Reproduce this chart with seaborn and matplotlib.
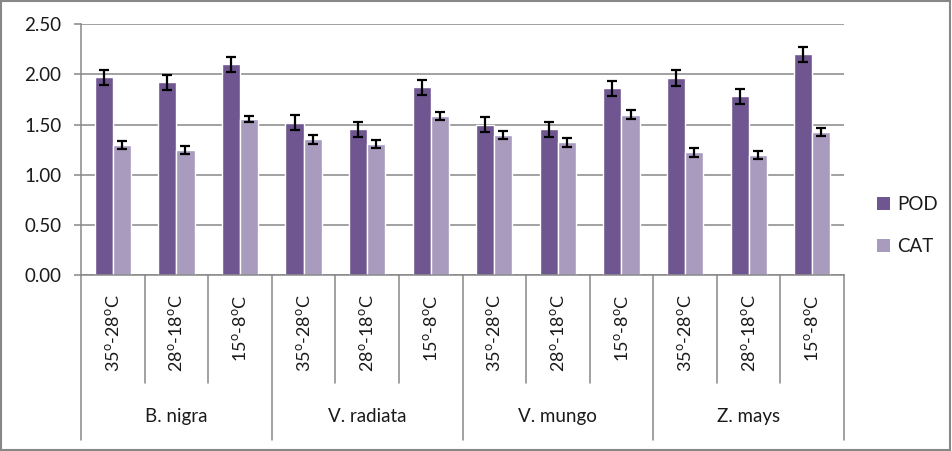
import pandas as pd
import matplotlib
matplotlib.use("Agg")
import matplotlib.pyplot as plt
import seaborn as sns
from matplotlib.patches import Rectangle, Patch

# data
species = ["B. nigra", "V. radiata", "V. mungo", "Z. mays"]
temps = ["35$^{\\mathrm{o}}$-28$^{\\mathrm{o}}$C", "28$^{\\mathrm{o}}$-18$^{\\mathrm{o}}$C", "15$^{\\mathrm{o}}$-8$^{\\mathrm{o}}$C"]
pod = [1.97, 1.92, 2.10, 1.52, 1.455, 1.87, 1.50, 1.455, 1.86, 1.96, 1.78, 2.20]
cat = [1.30, 1.245, 1.56, 1.355, 1.305, 1.59, 1.395, 1.325, 1.60, 1.225, 1.195, 1.425]
pod_err = [0.075, 0.075, 0.075, 0.075, 0.075, 0.075, 0.075, 0.075, 0.075, 0.08, 0.075, 0.075]
cat_err = [0.04, 0.04, 0.03, 0.045, 0.04, 0.04, 0.04, 0.045, 0.045, 0.045, 0.04, 0.04]
enzymes = ["POD", "CAT"]
colors = ["#6F5690", "#A99BBE"]

sns.set_style("white")
plt.rcParams['font.family'] = ['Lato', 'DejaVu Sans']
plt.rcParams['mathtext.fontset'] = 'custom'
plt.rcParams['mathtext.rm'] = 'Lato'

keys = [f"{s}|{t}" for s in species for t in temps]
tick_labels = [t for s in species for t in temps]
df = pd.DataFrame({
    "key": keys * 2,
    "value": pod + cat,
    "enzyme": ["POD"] * len(pod) + ["CAT"] * len(cat),
})

fig = plt.figure(figsize=(9.52, 4.51), dpi=100)
ax = fig.add_axes([0.0851, 0.3902, 0.8015, 0.5560])

sns.barplot(data=df, x="key", y="value", hue="enzyme", order=keys, hue_order=enzymes,
            palette=colors, width=0.57, errorbar=None, legend=False, saturation=1, ax=ax)

# error bars on each bar
for cont, errs in zip(ax.containers, [pod_err, cat_err]):
    xs = [b.get_x() + b.get_width() / 2 for b in cont]
    hs = [b.get_height() for b in cont]
    ax.errorbar(xs, hs, yerr=errs, fmt="none", ecolor="black", elinewidth=1.6,
                capsize=3.5, capthick=1.6, zorder=5)

ax.set_xlim(-0.5, len(keys) - 0.5)
ax.set_ylim(0, 2.5)
ax.set_yticks([0, 0.5, 1.0, 1.5, 2.0, 2.5])
ax.set_yticklabels([f"{v:.2f}" for v in [0, 0.5, 1.0, 1.5, 2.0, 2.5]])
ax.yaxis.grid(True, color="#878787", linewidth=1.1)
ax.set_axisbelow(True)
ax.set_xticks(range(len(keys)))
ax.set_xticklabels(tick_labels, rotation=90, va="top", ha="center")
ax.tick_params(axis="x", length=0, pad=14, labelsize=13, labelcolor="#1a1a1a")
ax.tick_params(axis="y", left=True, length=5, width=1.1, color="#878787", pad=9,
               labelsize=13.5, labelcolor="#1a1a1a")
ax.set_xlabel("")
ax.set_ylabel("")
for side in ["top", "right"]:
    ax.spines[side].set_visible(False)
for side in ["left", "bottom"]:
    ax.spines[side].set_color("#878787")
    ax.spines[side].set_linewidth(1.1)

# category separators and species labels below the axis
tr = ax.get_xaxis_transform()
for i in range(len(keys) + 1):
    low = -0.658 if i % 3 == 0 else -0.430
    ax.plot([i - 0.5, i - 0.5], [0, low], transform=tr, color="#878787",
            linewidth=1.1, clip_on=False)
for j, s in enumerate(species):
    ax.text(j * 3 + 1, -0.566, s, transform=tr, ha="center", va="center",
            fontsize=13.5, color="#1a1a1a")

handles = [Patch(facecolor=c, edgecolor="none", label=e) for c, e in zip(colors, enzymes)]
fig.legend(handles=handles, loc="center left", bbox_to_anchor=(0.921, 0.500), frameon=False,
           borderpad=0, borderaxespad=0,
           handlelength=0.7, handleheight=0.7, handletextpad=0.4, labelspacing=1.3,
           fontsize=13.5, labelcolor="#1a1a1a")

fig.patches.append(Rectangle((0.001, 0.002), 0.997, 0.996, transform=fig.transFigure,
                             fill=False, edgecolor="#878787", linewidth=1.5))

fig.savefig("out.png", dpi=100)
